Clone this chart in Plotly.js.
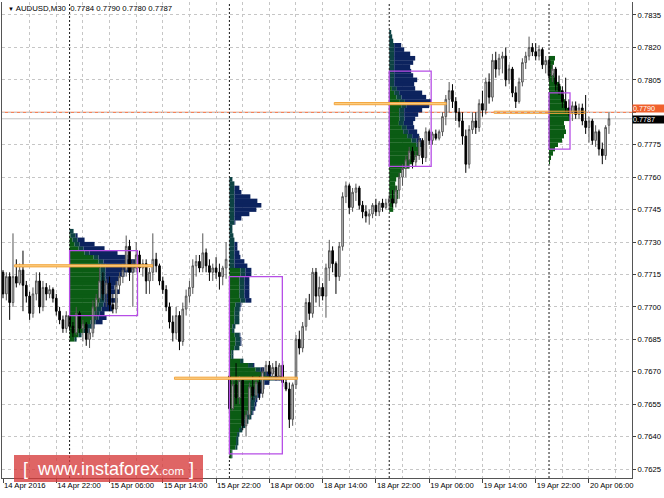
<!DOCTYPE html>
<html><head><meta charset="utf-8">
<script src="https://cdn.plot.ly/plotly-3.0.1.min.js"></script>
<style>html,body{margin:0;padding:0;background:#fff}#chart{width:664px;height:498px}</style>
</head><body><div id="chart"></div>
<script>
const symbol = 'AUDUSD,M30';
// OHLC of M30 bars, bar 0 = 14 Apr 2016 14:00
const open = [.7716,.7706,.7714,.7702,.7714,.7711,.7717,.7710,.7705,.7697,.7706,.7712,.7700,.7709,.7706,.7708,.7704,.7698,.7694,.7690,
.7696,.7691,.7688,.7697,.7690,.7692,.7685,.7688,.7700,.7704,.7712,.7706,.7711,.7701,.7699,.7710,.7714,.7717,.7728,.7716,
.7718,.7724,.7718,.7720,.7712,.7716,.7722,.7719,.7712,.7708,.7700,.7693,.7688,.7696,.7684,.7699,.7705,.7709,.7719,.7721,
.7718,.7725,.7719,.7716,.7718,.7716,.7714,.7718,.7668,.7653,.7664,.7658,.7666,.7645,.7650,.7663,.7659,.7665,.7660,.7670,
.7673,.7669,.7672,.7668,.7673,.7665,.7662,.7648,.7664,.7685,.7681,.7691,.7702,.7697,.7716,.7705,.7709,.7705,.7718,.7726,
.7720,.7714,.7728,.7751,.7756,.7746,.7753,.7755,.7747,.7744,.7742,.7743,.7747,.7744,.7748,.7746,.7748,.7750,.7748,.7754,
.7760,.7764,.7768,.7772,.7767,.7770,.7777,.7769,.7781,.7777,.7780,.7778,.7781,.7788,.7796,.7800,.7795,.7790,.7786,.7779,
.7766,.7782,.7786,.7783,.7794,.7791,.7804,.7797,.7814,.7810,.7815,.7816,.7805,.7810,.7799,.7795,.7804,.7813,.7816,.7820,
.7818,.7816,.7819,.7812,.7814,.7807,.7810,.7803,.7800,.7795,.7792,.7790,.7793,.7789,.7792,.7786,.7783,.7786,.7777,.7781,
.7773,.7770,.7784];
const high = [.7717,.7716,.7716,.7734,.7722,.7720,.7726,.7712,.7707,.7709,.7716,.7716,.7712,.7711,.7710,.7709,.7706,.7700,.7696,.7698,
.7698,.7693,.7700,.7698,.7694,.7693,.7690,.7703,.7706,.7718,.7716,.7713,.7714,.7706,.7712,.7716,.7720,.7733,.7731,.7722,
.7730,.7726,.7722,.7722,.7718,.7734,.7725,.7720,.7714,.7710,.7702,.7696,.7700,.7698,.7702,.7708,.7712,.7722,.7724,.7724,
.7734,.7727,.7722,.7720,.7723,.7720,.7719,.7730,.7669,.7667,.7674,.7668,.7667,.7652,.7665,.7668,.7667,.7668,.7672,.7675,
.7675,.7674,.7675,.7674,.7675,.7667,.7665,.7665,.7687,.7689,.7693,.7704,.7706,.7718,.7718,.7714,.7711,.7720,.7731,.7728,
.7721,.7730,.7753,.7758,.7757,.7755,.7757,.7756,.7749,.7747,.7745,.7748,.7750,.7749,.7750,.7750,.7752,.7754,.7756,.7762,
.7766,.7770,.7774,.7774,.7772,.7779,.7778,.7783,.7782,.7781,.7782,.7782,.7790,.7798,.7804,.7803,.7797,.7792,.7790,.7782,
.7784,.7790,.7790,.7796,.7800,.7806,.7808,.7817,.7818,.7817,.7818,.7820,.7812,.7811,.7802,.7806,.7815,.7818,.7825,.7822,
.7822,.7821,.7820,.7816,.7815,.7812,.7811,.7807,.7802,.7806,.7796,.7795,.7795,.7794,.7794,.7798,.7788,.7787,.7784,.7782,
.7776,.7784,.7790];
const low = [.7704,.7703,.7694,.7700,.7709,.7710,.7698,.7702,.7694,.7695,.7703,.7697,.7698,.7703,.7704,.7702,.7696,.7692,.7688,.7688,
.7689,.7686,.7687,.7688,.7684,.7682,.7681,.7686,.7694,.7702,.7703,.7700,.7698,.7697,.7697,.7706,.7711,.7714,.7712,.7700,
.7716,.7716,.7714,.7706,.7706,.7712,.7716,.7710,.7706,.7698,.7690,.7684,.7685,.7680,.7682,.7696,.7702,.7706,.7714,.7716,
.7716,.7716,.7712,.7712,.7713,.7708,.7710,.7713,.7651,.7652,.7655,.7655,.7643,.7640,.7648,.7657,.7657,.7657,.7658,.7668,
.7666,.7667,.7666,.7666,.7663,.7661,.7644,.7645,.7662,.7678,.7679,.7689,.7694,.7695,.7702,.7700,.7703,.7695,.7712,.7716,
.7706,.7712,.7726,.7748,.7743,.7744,.7749,.7745,.7741,.7739,.7738,.7741,.7742,.7742,.7744,.7745,.7745,.7746,.7746,.7750,
.7756,.7760,.7764,.7764,.7765,.7768,.7766,.7767,.7775,.7775,.7777,.7777,.7779,.7784,.7790,.7792,.7786,.7783,.7775,.7762,
.7764,.7780,.7780,.7781,.7788,.7789,.7794,.7795,.7806,.7807,.7808,.7802,.7803,.7797,.7792,.7794,.7802,.7810,.7814,.7816,
.7814,.7814,.7810,.7808,.7805,.7804,.7800,.7798,.7792,.7790,.7788,.7786,.7787,.7787,.7784,.7780,.7776,.7775,.7774,.7770,
.7766,.7768,.7780];
const close = [.7706,.7714,.7702,.7714,.7711,.7717,.7710,.7705,.7697,.7706,.7712,.7700,.7709,.7706,.7708,.7704,.7698,.7694,.7690,.7696,
.7691,.7688,.7697,.7690,.7692,.7685,.7688,.7700,.7704,.7712,.7706,.7711,.7701,.7699,.7710,.7714,.7717,.7728,.7716,.7718,
.7724,.7718,.7720,.7712,.7716,.7722,.7719,.7712,.7708,.7700,.7693,.7688,.7696,.7684,.7699,.7705,.7709,.7719,.7721,.7718,
.7725,.7719,.7716,.7718,.7716,.7714,.7718,.7722,.7653,.7664,.7658,.7666,.7645,.7650,.7663,.7659,.7665,.7660,.7670,.7673,
.7669,.7672,.7668,.7673,.7665,.7662,.7648,.7664,.7685,.7681,.7691,.7702,.7697,.7716,.7705,.7709,.7705,.7718,.7726,.7720,
.7714,.7728,.7751,.7756,.7746,.7753,.7755,.7747,.7744,.7742,.7743,.7747,.7744,.7748,.7746,.7748,.7750,.7748,.7754,.7760,
.7764,.7768,.7772,.7767,.7770,.7777,.7769,.7781,.7777,.7780,.7778,.7781,.7788,.7796,.7800,.7795,.7790,.7786,.7779,.7766,
.7782,.7786,.7783,.7794,.7791,.7804,.7797,.7814,.7810,.7815,.7816,.7805,.7810,.7799,.7795,.7804,.7813,.7816,.7820,.7818,
.7816,.7819,.7812,.7814,.7807,.7810,.7803,.7800,.7795,.7792,.7790,.7793,.7789,.7792,.7786,.7783,.7786,.7777,.7781,.7773,
.7770,.7783,.7787];

const xTickBar = [0,16,32,48,64,80,96,112,128,144,160,176];
const xTickLabel = ['14 Apr 2016','14 Apr 22:00','15 Apr 06:00','15 Apr 14:00','15 Apr 22:00','18 Apr 06:00',
  '18 Apr 14:00','18 Apr 22:00','19 Apr 06:00','19 Apr 14:00','19 Apr 22:00','20 Apr 06:00'];
const yTickVal = [0.7625,0.7640,0.7655,0.7670,0.7685,0.7700,0.7715,0.7730,0.7745,0.7760,0.7775,0.7790,0.7805,0.7820,0.7835];
const dayStart = [20,68,116,164];   // first bar of 15, 18, 19, 20 Apr
const vaHigh = [0.7726,0.7714,0.7809,0.7799];
const vaLow  = [0.7696,0.7632,0.7765,0.7773];
const poc    = [0.7719,0.7667,0.7794,0.7790];
const dayDone = [true,true,true,false];
const askPrice = 0.7790, bidPrice = 0.7787;

// market profiles: row price, row length (bars), early (green) part
const p15Lvl = [0.7685,0.7687,0.7689,0.7691,0.7693,0.7695,0.7697,0.7699,0.7701,0.7703,0.7705,0.7707,0.7709,0.7711,0.7713,0.7715,0.7717,0.7719,0.7721,0.7723,0.7725,0.7727,0.7729,0.7731,0.7733,0.7735];
const p15Len = [2.1,3.6,6,7.5,9.9,11.1,10.5,12.9,12.6,14.4,12.6,15,13.5,14.4,15,16.5,19.5,20.4,20.1,17.4,14.4,10.5,7.5,4.5,2.4,1.2];
const p15Early = [1.5,2.7,4.2,5.1,6.3,7.2,7.5,8.1,8.7,9,9,9,9,9,9.3,9.3,9.3,9.3,8.7,7.2,4.5,2.7,1.5,0.9,0.3,0];

const p18Lvl = [0.7631,0.7633,0.7635,0.7637,0.7639,0.7641,0.7643,0.7645,0.7647,0.7649,0.7651,0.7653,0.7655,0.7657,0.7659,0.7661,0.7663,0.7665,0.7667,0.7669,0.7671,0.7673,0.7675,
 0.7677,0.7679,0.7681,0.7683,0.7685,0.7687,0.7689,0.7691,0.7693,0.7695,0.7697,0.7699,0.7701,0.7703,0.7705,0.7707,0.7709,0.7711,0.7713,0.7715,0.7717,
 0.7719,0.7721,0.7723,0.7725,0.7727,0.7729,0.7731,0.7733,0.7735,0.7737,0.7739,0.7741,0.7743,0.7745,0.7747,0.7749,0.7751,0.7753,0.7755,0.7757,0.7759];
const p18Len = [0.9,0.9,2.4,2.7,2.7,3,3.9,4.8,5.7,6.6,7.2,7.8,8.1,8.4,9.3,9.9,10.5,12,15.9,12.6,10.5,7.5,4.2,
 1.2,1.2,3,3.6,3.6,3.3,1.5,1.8,3,3,3,3.3,3.6,6.6,6,6,6,6,6,6.6,6.6,
 5.4,4.5,3.3,3,2.4,2.4,1.5,1.2,0.9,0.9,1.8,3.6,6,8.1,9.6,8.4,6.3,3.6,3,1.5,0.9];
const p18Early = [0.7,0.7,1.8,2,2,2.3,2.9,3.6,4.3,5,5.4,5.9,6.1,6.3,7,7.4,7.9,9,11.9,9.5,7.9,5.6,3.2,
 0.6,0.6,1.5,1.8,1.8,1.6,0.8,0.9,1.5,1.5,1.5,1.6,1.8,3.3,3,3,3,3,3,3.3,3.3,
 0,0,0,0,0,0,0,0,0,0,0,0,0,0,0,0,0,0,0,0,0];

const p19Lvl = [0.7745,0.7747,0.7749,0.7751,0.7753,0.7755,0.7757,0.7759,0.7761,0.7763,0.7765,0.7767,0.7769,0.7771,0.7773,0.7775,0.7777,0.7779,0.7781,0.7783,0.7785,
 0.7787,0.7789,0.7791,0.7793,0.7795,0.7797,0.7799,0.7801,0.7803,0.7805,0.7807,0.7809,0.7811,0.7813,0.7815,0.7817,0.7819,0.7821,0.7823,0.7825,0.7827];
const p19Len = [1.2,1.2,2.4,2.7,2.7,2.4,1.8,2.1,3.3,4.2,6,7.2,8.1,9,9.3,10.2,9.6,9,8.4,7.5,7.2,
 7.8,8.7,9.9,12,12.6,11.1,9.9,7.8,7.5,8.4,7.2,6.6,6.3,7.2,7.8,6.3,4.5,3.6,1.2,0.9,0.6];
const p19Early = [1.2,1.2,2.4,2.7,2.7,2.4,1.8,2.1,3.3,4.2,6,7.2,8.1,9,9.3,8.2,6.7,5.4,4.2,3.8,2.9,
 3.1,3,3,3.6,3.2,2.2,1.5,0.8,0,0,0,0,0,0,0,0,0,0,0,0,0];

const p20Lvl = [0.7767,0.7769,0.7771,0.7773,0.7775,0.7777,0.7779,0.7781,0.7783,0.7785,0.7787,0.7789,0.7791,0.7793,0.7795,0.7797,0.7799,0.7801,0.7803,0.7805,0.7807,0.7809,0.7811,0.7813,0.7815];
const p20Len = [0.3,0.6,1.2,1.8,2.7,3.9,4.5,5.1,4.8,4.5,6.3,6.3,6,5.1,4.8,4.5,3.9,3.6,3,2.4,1.5,1.2,1.2,1.5,1.8];
const p20Early = [0.3,0.6,1.2,1.8,2.7,3.9,4.5,5.1,4.8,4.5,6.3,6.3,6,5.1,4.8,4.5,3.9,3.6,3,2.4,1.5,1.2,1.2,1.5,1.8];

// ---------- build ----------
const FONT = 'Liberation Sans, Arial, sans-serif';
const profiles = [
  {lvl:p15Lvl,len:p15Len,early:p15Early},
  {lvl:p18Lvl,len:p18Len,early:p18Early},
  {lvl:p19Lvl,len:p19Len,early:p19Early},
  {lvl:p20Lvl,len:p20Len,early:p20Early}
];
const TEAL = 1.5;
const seg = {g:{y:[],x:[],b:[]}, t:{y:[],x:[],b:[]}, n:{y:[],x:[],b:[]}};
const maxLen = [];
profiles.forEach((p,k)=>{
  const d = dayStart[k];
  maxLen.push(Math.max(...p.len));
  p.lvl.forEach((lv,r)=>{
    const L = p.len[r], e = Math.min(p.early[r], L);
    const t = Math.min(L-e, TEAL), n = L-e-t;
    if (e>0){seg.g.y.push(lv);seg.g.x.push(e);seg.g.b.push(d);}
    if (t>0){seg.t.y.push(lv);seg.t.x.push(t);seg.t.b.push(d+e);}
    if (n>0){seg.n.y.push(lv);seg.n.x.push(n);seg.n.b.push(d+e+t);}
  });
});
function barTrace(s,color){
  return {type:'bar',orientation:'h',y:s.y,x:s.x,base:s.b,width:0.000212,
    marker:{color:color,line:{width:0}},hoverinfo:'skip',showlegend:false};
}
const idx = open.map((_,i)=>i);
const data = [
  barTrace(seg.g,'#0b5c14'),
  barTrace(seg.t,'#0d4344'),
  barTrace(seg.n,'#0c235e'),
  {type:'candlestick',x:idx,open:open,high:high,low:low,close:close,
   increasing:{line:{color:'#555555',width:1},fillcolor:'#d4d4d4'},
   decreasing:{line:{color:'#000000',width:1},fillcolor:'#000000'},
   hoverinfo:'skip',showlegend:false}
];

const shapes = [];
// ask / bid lines
shapes.push({type:'line',xref:'paper',x0:0,x1:1,yref:'y',y0:bidPrice,y1:bidPrice,line:{color:'#c4c4c4',width:1},layer:'below'});
shapes.push({type:'line',xref:'paper',x0:0,x1:1,yref:'y',y0:askPrice,y1:askPrice,line:{color:'#f0602c',width:1},layer:'below'});
dayStart.forEach((d,k)=>{
  shapes.push({type:'line',xref:'x',x0:d,x1:d,yref:'paper',y0:0,y1:1,line:{color:'#1a1a1a',width:1,dash:'2px,2px'},layer:'above'});
  shapes.push({type:'rect',xref:'x',x0:d,x1:d+maxLen[k],yref:'y',y0:vaLow[k],y1:vaHigh[k],
    line:{color:'#b64ee6',width:1.3},fillcolor:'rgba(0,0,0,0)',layer:'above'});
  shapes.push({type:'rect',xref:'x',x0:d-16.5,x1:d+maxLen[k]+4.5,yref:'y',y0:poc[k]-0.00005,y1:poc[k]+0.00005,
    line:{color:'#f3a53c',width:1},fillcolor:dayDone[k]?'#fbcf85':'rgba(255,255,255,0)',layer:'above'});
});
// watermark box
const W=630,H=476;
const px=v=>(v-2)/W, py=v=>(478-v)/H;
shapes.push({type:'rect',xref:'paper',yref:'paper',x0:px(14),x1:px(203),y0:py(482),y1:py(455),
  fillcolor:'rgba(214,58,58,0.78)',line:{width:0},layer:'above'});

const n = open.length-1;
const header = '<span style="font-size:6px">▼</span> ' + symbol + '\u00a0\u00a0' +
  [open[n],high[n],low[n],close[n]].map(v=>v.toFixed(4)).join(' ');
const annotations = [
  {xref:'paper',yref:'paper',x:px(6),y:py(8.5),xanchor:'left',yanchor:'middle',text:header,showarrow:false,
   font:{family:FONT,size:7.8,color:'#000'}},
  {xref:'paper',yref:'paper',x:px(108.5),y:py(469),xanchor:'center',yanchor:'middle',showarrow:false,
   text:'[ \u00a0www.instaforex<span style="font-size:11.5px">.com</span> ]',
   font:{family:FONT,size:18,color:'#ffffff'}},
  {xref:'paper',yref:'y',x:1,y:askPrice,xanchor:'left',yanchor:'middle',yshift:4,showarrow:false,
   text:askPrice.toFixed(4),bgcolor:'#f0602c',width:31,height:7,borderpad:0,align:'left',
   font:{family:FONT,size:7.2,color:'#ffffff'}},
  {xref:'paper',yref:'y',x:1,y:bidPrice,xanchor:'left',yanchor:'middle',yshift:-0.5,showarrow:false,
   text:bidPrice.toFixed(4),bgcolor:'#000000',width:31,height:7,borderpad:0,align:'left',
   font:{family:FONT,size:7.2,color:'#ffffff'}}
];
// the axis label under the ask box is covered in the reference
const yTickText = yTickVal.map(v => Math.abs(v-askPrice)<1e-9 ? '' : v.toFixed(4));

const minorX = xTickBar.map(v=>v+8);
const layout = {
  width:664,height:498,margin:{l:2,r:32,t:2,b:20},
  paper_bgcolor:'#ffffff',plot_bgcolor:'#ffffff',
  showlegend:false,barmode:'overlay',dragmode:false,
  xaxis:{range:[-0.3,188.92],tickmode:'array',tickvals:xTickBar,ticktext:xTickLabel,
    ticks:'outside',ticklen:4,tickcolor:'#444',tickwidth:1,ticklabelposition:'outside right',
    showgrid:true,gridcolor:'#c6c6c6',griddash:'3px,3px',gridwidth:1,
    minor:{tickvals:minorX,showgrid:true,gridcolor:'#c6c6c6',griddash:'3px,3px',gridwidth:1,ticks:''},
    showline:true,linecolor:'#555',linewidth:1,zeroline:false,
    rangeslider:{visible:false},fixedrange:true,
    tickfont:{family:FONT,size:7.7,color:'#000'}},
  yaxis:{side:'right',range:[0.762086,0.784101],tickmode:'array',tickvals:yTickVal,ticktext:yTickText,
    ticks:'outside',ticklen:3,tickcolor:'#444',tickwidth:1,
    showgrid:true,gridcolor:'#c6c6c6',griddash:'3px,3px',gridwidth:1,
    showline:true,linecolor:'#555',linewidth:1,mirror:true,zeroline:false,fixedrange:true,
    tickfont:{family:FONT,size:7.7,color:'#000'}},
  shapes:shapes,annotations:annotations
};
Plotly.newPlot('chart',data,layout,{displayModeBar:false,staticPlot:true});
</script></body></html>
